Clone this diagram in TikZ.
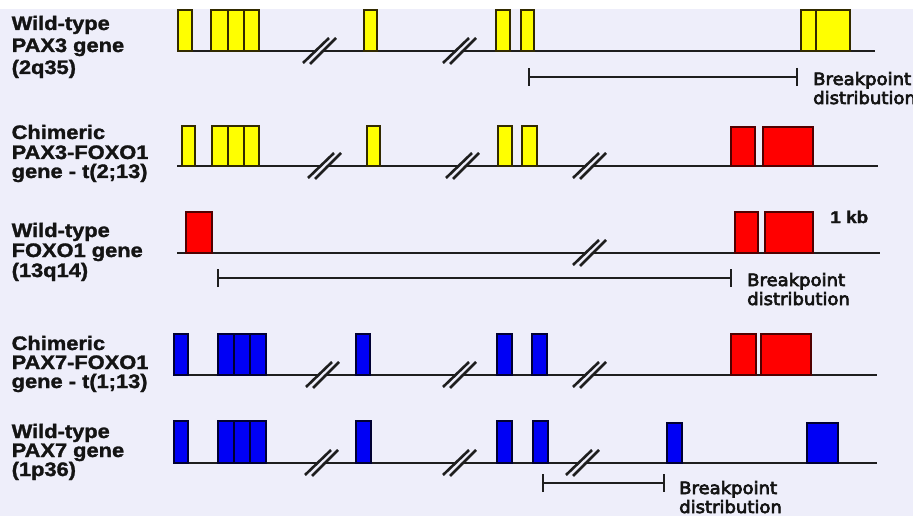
\documentclass[tikz,border=0pt]{standalone}
\usepackage{fontspec}
\usetikzlibrary{arrows.meta}
\newfontfamily\lblfont[FakeStretch=1.12,FakeBold=1.5]{Liberation Sans}
\newfontfamily\bpfont[FakeStretch=1.06,FakeBold=4]{DejaVu Sans}
\definecolor{bg}{RGB}{238,238,250}
\definecolor{linecol}{RGB}{30,30,30}
\definecolor{txt}{RGB}{20,20,20}
\definecolor{yfill}{RGB}{255,255,0}
\definecolor{yedge}{RGB}{50,42,0}
\definecolor{rfill}{RGB}{255,0,0}
\definecolor{redge}{RGB}{80,0,0}
\definecolor{bfill}{RGB}{0,0,245}
\definecolor{bedge}{RGB}{0,0,50}
\tikzset{
  gene/.style={draw=linecol, line width=2.2pt},
  yex/.style={fill=yfill, draw=yedge, line width=2.4pt},
  rex/.style={fill=rfill, draw=redge, line width=2.2pt},
  bex/.style={fill=bfill, draw=bedge, line width=2.5pt},
  slash/.style={draw=linecol, line width=2.6pt},
  gap/.style={draw=bg, line width=3pt},
  bpbar/.style={draw=linecol, line width=2.2pt, {Bar[width=18pt]}-{Bar[width=18pt]}},
  lbl/.style={font=\lblfont\bfseries\fontsize{19.5}{20}\selectfont, text=txt, anchor=base west, inner sep=0pt},
  bptext/.style={font=\bpfont\fontsize{17}{19}\selectfont, text=txt, anchor=base west, inner sep=0pt},
}
% "//" mark cutting a gene line: centre x, line y
\newcommand\genebreak[2]{%
  \draw[gap] (#1-14,#2+12.5) -- (#1+12.5,#2-13);
  \draw[slash] (#1-17,#2+12) -- (#1+9,#2-13);
  \draw[slash] (#1-10,#2+13) -- (#1+16,#2-13);
}
\begin{document}
\begin{tikzpicture}[x=1pt,y=-1pt]
\useasboundingbox (0,0) rectangle (913,516);
\fill[bg] (0,0) rectangle (913,516);

% ---------- Wild-type PAX3 ----------
\coordinate (a0) at (177,51); \coordinate (a1) at (875,51);
\draw[gene] (a0) -- (a1);
\genebreak{320}{51}\genebreak{460}{51}
\foreach \l/\r in {178/192,211/228,228/244,244/259,364/377,496/510,521/534,801/816,816/850}
  \filldraw[yex] (\l,10) rectangle (\r,51);
\coordinate (ba0) at (528,77); \coordinate (ba1) at (798,77);
\draw[bpbar] (ba0) -- (ba1);
\node[bptext] (bpa1) at (813,85) {Breakpoint};
\node[bptext] (bpa2) at (813,104) {distribution};
\node[lbl] (la1) at (11.5,30) {Wild-type};
\node[lbl] (la2) at (11.5,52) {PAX3 gene};
\node[lbl] (la3) at (11.5,74) {(2q35)};

% ---------- Chimeric PAX3-FOXO1 ----------
\coordinate (b0) at (177,166); \coordinate (b1) at (878,166);
\draw[gene] (b0) -- (b1);
\genebreak{325}{166}\genebreak{463}{166}\genebreak{590}{166}
\foreach \l/\r in {182/195,212/228,228/244,244/259,367/380,498/512,522/537}
  \filldraw[yex] (\l,126) rectangle (\r,166);
\foreach \l/\r in {731/755,763/813}
  \filldraw[rex] (\l,127) rectangle (\r,166);
\node[lbl] (lb1) at (11.5,139) {Chimeric};
\node[lbl] (lb2) at (11.5,159) {PAX3-FOXO1};
\node[lbl] (lb3) at (11.5,178) {gene - t(2;13)};

% ---------- Wild-type FOXO1 ----------
\coordinate (c0) at (177,253); \coordinate (c1) at (880,253);
\draw[gene] (c0) -- (c1);
\genebreak{590}{253}
\foreach \l/\r in {186/212,735/758,765/813}
  \filldraw[rex] (\l,212) rectangle (\r,253);
\node[lbl, font=\lblfont\bfseries\fontsize{17}{18}\selectfont] (kb) at (830,223) {1 kb};
\coordinate (bc0) at (217,278); \coordinate (bc1) at (732,278);
\draw[bpbar] (bc0) -- (bc1);
\node[bptext] (bpc1) at (747,286) {Breakpoint};
\node[bptext] (bpc2) at (747,305) {distribution};
\node[lbl] (lc1) at (11.5,237) {Wild-type};
\node[lbl] (lc2) at (11.5,257) {FOXO1 gene};
\node[lbl] (lc3) at (11.5,277) {(13q14)};

% ---------- Chimeric PAX7-FOXO1 ----------
\coordinate (d0) at (174,375); \coordinate (d1) at (877,375);
\draw[gene] (d0) -- (d1);
\genebreak{323}{375}\genebreak{460}{375}\genebreak{590}{375}
\foreach \l/\r in {174/188,218/234,234/250,250/266,356/370,497/512,532/547}
  \filldraw[bex] (\l,334) rectangle (\r,375);
\foreach \l/\r in {731/756,761/811}
  \filldraw[rex] (\l,334) rectangle (\r,375);
\node[lbl] (ld1) at (11.5,350) {Chimeric};
\node[lbl] (ld2) at (11.5,369) {PAX7-FOXO1};
\node[lbl] (ld3) at (11.5,388) {gene - t(1;13)};

% ---------- Wild-type PAX7 ----------
\coordinate (e0) at (174,463); \coordinate (e1) at (877,463);
\draw[gene] (e0) -- (e1);
\genebreak{322}{463}\genebreak{460}{463}\genebreak{583}{463}
\foreach \l/\r in {174/188,218/234,234/250,250/266,356/371,497/512,533/548}
  \filldraw[bex] (\l,421) rectangle (\r,463);
\foreach \l/\r in {667/682,807/838}
  \filldraw[bex] (\l,423) rectangle (\r,463);
\coordinate (be0) at (542,483); \coordinate (be1) at (665,483);
\draw[bpbar] (be0) -- (be1);
\node[bptext] (bpe1) at (679,494) {Breakpoint};
\node[bptext] (bpe2) at (679,513) {distribution};
\node[lbl] (le1) at (11.5,438) {Wild-type};
\node[lbl] (le2) at (11.5,457) {PAX7 gene};
\node[lbl] (le3) at (11.5,476) {(1p36)};

% white strip along the top edge
\fill[white] (0,0) rectangle (913,9);
\end{tikzpicture}
\end{document}
